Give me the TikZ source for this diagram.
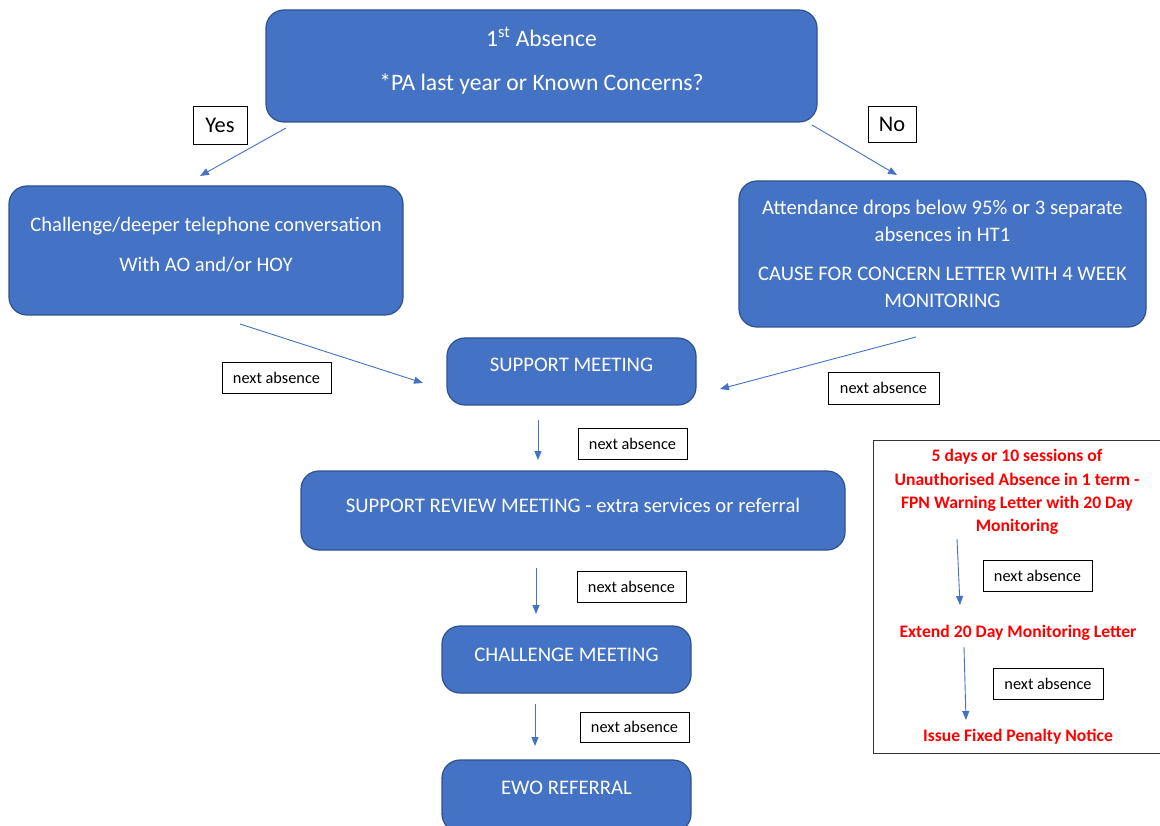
\documentclass[tikz,border=0pt]{standalone}
\usepackage{fontspec}
\setmainfont{Carlito}
\usetikzlibrary{arrows.meta}
\definecolor{boxblue}{HTML}{4472C4}
\definecolor{boxedge}{HTML}{2F528F}
\definecolor{arrowblue}{HTML}{4472C4}
\definecolor{penred}{HTML}{FF0000}
\begin{document}
\begin{tikzpicture}[x=1pt,y=-1pt,
  flowbox/.style={draw=boxedge, line width=1.2pt, fill=boxblue, rounded corners=18pt,
    inner sep=0pt},
  boxtext/.style={text=white, align=center, inner sep=0pt},
  tagbox/.style={draw=black, line width=0.8pt, fill=white, inner sep=0pt,
    font=\fontsize{16.3}{18}\selectfont},
  bigtag/.style={tagbox, font=\fontsize{22.4}{26}\selectfont},
  redtext/.style={text=penred, align=center, inner sep=0pt,
    font=\fontsize{17.6}{23.3}\selectfont\bfseries},
  flow/.style={draw=arrowblue, line width=0.9pt, -{Triangle[length=9pt,width=7pt]}}]
\useasboundingbox (0,0) rectangle (1160,826);
\fill[white] (0,0) rectangle (1160,826);

% main boxes
\node[flowbox, minimum width=551, minimum height=112,
  label={[boxtext, yshift=5pt, font=\fontsize{23.6}{28}\selectfont]center:{1\textsuperscript{st} Absence\\[16pt]*PA last year or Known Concerns?}}]
  (top) at (541.5,66) {};
\node[flowbox, minimum width=394, minimum height=129,
  label={[boxtext, yshift=6pt, font=\fontsize{20.6}{25}\selectfont]center:{Challenge/deeper telephone conversation\\[15pt]With AO and/or HOY}}]
  (left) at (206,250.5) {};
\node[flowbox, minimum width=407, minimum height=146,
  label={[boxtext, font=\fontsize{20.7}{27}\selectfont]center:{Attendance drops below 95\% or 3 separate\\absences in HT1\\[12pt]CAUSE FOR CONCERN LETTER WITH 4 WEEK\\MONITORING}}]
  (right) at (942.5,254) {};
\node[flowbox, minimum width=249, minimum height=67,
  label={[boxtext, yshift=7pt, font=\fontsize{20.7}{25}\selectfont]center:SUPPORT MEETING}]
  (sm) at (571.5,371.5) {};
\node[flowbox, minimum width=544, minimum height=79,
  label={[boxtext, yshift=5pt, font=\fontsize{20.7}{25}\selectfont]center:SUPPORT REVIEW MEETING - extra services or referral}]
  (srm) at (573,510.5) {};
\node[flowbox, minimum width=249, minimum height=67,
  label={[boxtext, yshift=5pt, font=\fontsize{20.7}{25}\selectfont]center:CHALLENGE MEETING}]
  (cm) at (566.5,659.5) {};
\node[flowbox, minimum width=249, minimum height=72,
  label={[boxtext, yshift=8pt, font=\fontsize{20.7}{25}\selectfont]center:EWO REFERRAL}]
  (ewo) at (566.5,796) {};

% red panel
\draw[draw=black!80, line width=0.8pt] (873,440) rectangle (1165,753);
\node[redtext] (r1) at (1017,492) {5 days or 10 sessions of\\Unauthorised Absence in 1 term -\\FPN Warning Letter with 20 Day\\Monitoring};
\node[redtext] (r2) at (1018,633) {Extend 20 Day Monitoring Letter};
\node[redtext] (r3) at (1018,737) {Issue Fixed Penalty Notice};

% tags
\node[bigtag, minimum width=54, minimum height=38] (yes) at (220,125) {Yes};
\node[bigtag, minimum width=48, minimum height=36] (no) at (892,124) {No};
\node[tagbox, minimum width=109, minimum height=31] (na1) at (276.5,377.5) {next absence};
\node[tagbox, minimum width=111, minimum height=32] (na2) at (883.5,388) {next absence};
\node[tagbox, minimum width=109, minimum height=31] (na3) at (632.5,443.5) {next absence};
\node[tagbox, minimum width=109, minimum height=31] (na4) at (631.5,586.5) {next absence};
\node[tagbox, minimum width=109, minimum height=30] (na5) at (634.5,727) {next absence};
\node[tagbox, minimum width=109, minimum height=31] (na6) at (1037.5,575.5) {next absence};
\node[tagbox, minimum width=110, minimum height=31] (na7) at (1048,683.5) {next absence};

% arrow end points
\coordinate (a1s) at (286,128); \coordinate (a1e) at (200,176);
\coordinate (a2s) at (812,125); \coordinate (a2e) at (897,175);
\coordinate (a3s) at (240,324); \coordinate (a3e) at (423,383);
\coordinate (a4s) at (916,337); \coordinate (a4e) at (720,389);
\coordinate (a5s) at (538,420); \coordinate (a5e) at (538,460);
\coordinate (a6s) at (536,568); \coordinate (a6e) at (536,614);
\coordinate (a7s) at (535,704); \coordinate (a7e) at (535,746);
\coordinate (a8s) at (957,539); \coordinate (a8e) at (960,605);
\coordinate (a9s) at (964,647); \coordinate (a9e) at (966,720);

\draw[flow] (a1s) -- (a1e);
\draw[flow] (a2s) -- (a2e);
\draw[flow] (a3s) -- (a3e);
\draw[flow] (a4s) -- (a4e);
\draw[flow] (a5s) -- (a5e);
\draw[flow] (a6s) -- (a6e);
\draw[flow] (a7s) -- (a7e);
\draw[flow] (a8s) -- (a8e);
\draw[flow] (a9s) -- (a9e);
\end{tikzpicture}
\end{document}
